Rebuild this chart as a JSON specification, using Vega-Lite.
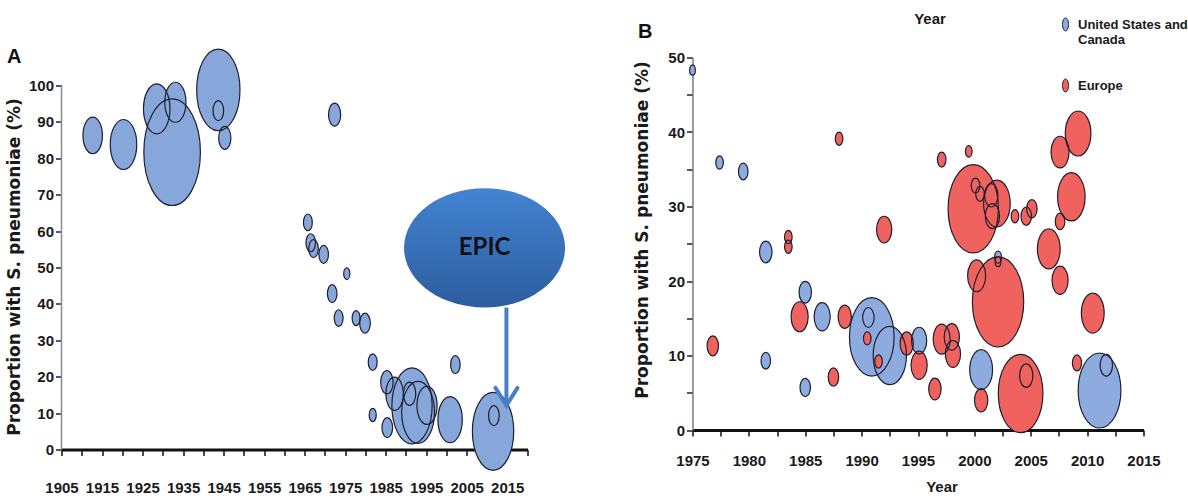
{
  "$schema": "https://vega.github.io/schema/vega-lite/v6.json",
  "background": "white",
  "padding": {"left": 4.5, "top": 11.5, "right": 0, "bottom": 0},
  "spacing": 165,
  "bounds": "flush",
  "config": {
    "view": {"stroke": null},
    "axis": {
      "grid": false,
      "labelFont": "Liberation Sans",
      "labelFontWeight": "bold",
      "labelFontSize": 15,
      "labelColor": "#1a1a1a",
      "labelOverlap": false,
      "labelFlush": false,
      "titleFont": "DejaVu Sans",
      "titleFontWeight": "bold",
      "titleFontSize": 17,
      "titleColor": "#1a1a1a",
      "tickColor": "#222222",
      "tickWidth": 1.5,
      "tickSize": 6
    }
  },
  "datasets": {
    "studiesA": [
      {"year": 1912.7, "pct": 86.3, "n": 337},
      {"year": 1920.3, "pct": 83.8, "n": 625},
      {"year": 1932.3, "pct": 81.7, "n": 2846},
      {"year": 1928.5, "pct": 93.6, "n": 625},
      {"year": 1933.1, "pct": 95.4, "n": 400},
      {"year": 1943.7, "pct": 98.8, "n": 1669},
      {"year": 1943.7, "pct": 93.1, "n": 100},
      {"year": 1945.3, "pct": 85.6, "n": 132},
      {"year": 1972.4, "pct": 92.0, "n": 132},
      {"year": 1965.8, "pct": 62.4, "n": 70},
      {"year": 1966.5, "pct": 56.8, "n": 81},
      {"year": 1967.2, "pct": 55.2, "n": 81},
      {"year": 1969.7, "pct": 53.6, "n": 81},
      {"year": 1975.4, "pct": 48.3, "n": 34},
      {"year": 1971.8, "pct": 42.8, "n": 81},
      {"year": 1973.4, "pct": 36.1, "n": 70},
      {"year": 1977.7, "pct": 36.1, "n": 56},
      {"year": 1979.9, "pct": 34.7, "n": 100},
      {"year": 1981.8, "pct": 24.0, "n": 70},
      {"year": 2002.2, "pct": 23.3, "n": 81},
      {"year": 1991.5, "pct": 12.0, "n": 1444},
      {"year": 1993.0, "pct": 10.2, "n": 961},
      {"year": 1985.3, "pct": 18.5, "n": 136},
      {"year": 1987.2, "pct": 15.3, "n": 277},
      {"year": 1990.9, "pct": 15.3, "n": 136},
      {"year": 1995.2, "pct": 12.1, "n": 361},
      {"year": 1981.8, "pct": 9.5, "n": 44},
      {"year": 1985.4, "pct": 6.0, "n": 100},
      {"year": 2000.9, "pct": 8.2, "n": 529},
      {"year": 2011.5, "pct": 5.0, "n": 1521},
      {"year": 2011.7, "pct": 9.3, "n": 100}
    ],
    "studiesB": [
      {"year": 1975.0, "pct": 48.3, "n": 25, "region": "United States and Canada"},
      {"year": 1977.4, "pct": 35.9, "n": 44, "region": "United States and Canada"},
      {"year": 1979.5, "pct": 34.7, "n": 70, "region": "United States and Canada"},
      {"year": 1981.5, "pct": 23.9, "n": 118, "region": "United States and Canada"},
      {"year": 1985.0, "pct": 18.5, "n": 118, "region": "United States and Canada"},
      {"year": 1986.5, "pct": 15.2, "n": 200, "region": "United States and Canada"},
      {"year": 1990.9, "pct": 12.5, "n": 1533, "region": "United States and Canada"},
      {"year": 1990.6, "pct": 15.1, "n": 100, "region": "United States and Canada"},
      {"year": 1992.5, "pct": 10.0, "n": 850, "region": "United States and Canada"},
      {"year": 1995.1, "pct": 12.0, "n": 178, "region": "United States and Canada"},
      {"year": 1981.5, "pct": 9.3, "n": 70, "region": "United States and Canada"},
      {"year": 1985.0, "pct": 5.7, "n": 84, "region": "United States and Canada"},
      {"year": 2002.1, "pct": 23.2, "n": 36, "region": "United States and Canada"},
      {"year": 2000.6, "pct": 8.1, "n": 400, "region": "United States and Canada"},
      {"year": 2011.1, "pct": 5.3, "n": 1406, "region": "United States and Canada"},
      {"year": 2011.7, "pct": 8.7, "n": 118, "region": "United States and Canada"},
      {"year": 1988.0, "pct": 39.1, "n": 44, "region": "Europe"},
      {"year": 1992.0, "pct": 26.9, "n": 178, "region": "Europe"},
      {"year": 1983.5, "pct": 25.9, "n": 44, "region": "Europe"},
      {"year": 1983.5, "pct": 24.6, "n": 44, "region": "Europe"},
      {"year": 1984.5, "pct": 15.2, "n": 225, "region": "Europe"},
      {"year": 1988.5, "pct": 15.2, "n": 136, "region": "Europe"},
      {"year": 1990.5, "pct": 12.3, "n": 44, "region": "Europe"},
      {"year": 1991.5, "pct": 9.2, "n": 44, "region": "Europe"},
      {"year": 1994.0, "pct": 11.6, "n": 136, "region": "Europe"},
      {"year": 1995.1, "pct": 8.7, "n": 200, "region": "Europe"},
      {"year": 1976.8, "pct": 11.3, "n": 100, "region": "Europe"},
      {"year": 1987.5, "pct": 7.1, "n": 84, "region": "Europe"},
      {"year": 1997.1, "pct": 36.3, "n": 56, "region": "Europe"},
      {"year": 1999.5, "pct": 37.4, "n": 34, "region": "Europe"},
      {"year": 1999.9, "pct": 29.7, "n": 1949, "region": "Europe"},
      {"year": 2002.0, "pct": 30.4, "n": 545, "region": "Europe"},
      {"year": 2000.1, "pct": 32.8, "n": 56, "region": "Europe"},
      {"year": 2000.5, "pct": 31.7, "n": 56, "region": "Europe"},
      {"year": 2001.5, "pct": 31.5, "n": 136, "region": "Europe"},
      {"year": 2001.6, "pct": 28.7, "n": 156, "region": "Europe"},
      {"year": 2003.6, "pct": 28.7, "n": 44, "region": "Europe"},
      {"year": 2004.6, "pct": 28.7, "n": 84, "region": "Europe"},
      {"year": 2005.1, "pct": 29.7, "n": 84, "region": "Europe"},
      {"year": 2009.2, "pct": 39.8, "n": 506, "region": "Europe"},
      {"year": 2007.6, "pct": 37.3, "n": 251, "region": "Europe"},
      {"year": 2008.6, "pct": 31.3, "n": 583, "region": "Europe"},
      {"year": 2007.6, "pct": 28.0, "n": 70, "region": "Europe"},
      {"year": 2006.6, "pct": 24.3, "n": 400, "region": "Europe"},
      {"year": 2007.6, "pct": 20.1, "n": 200, "region": "Europe"},
      {"year": 2000.2, "pct": 20.7, "n": 251, "region": "Europe"},
      {"year": 2002.1, "pct": 17.2, "n": 2025, "region": "Europe"},
      {"year": 2002.1, "pct": 22.6, "n": 25, "region": "Europe"},
      {"year": 2010.5, "pct": 15.7, "n": 400, "region": "Europe"},
      {"year": 2000.6, "pct": 4.0, "n": 136, "region": "Europe"},
      {"year": 2004.1, "pct": 4.9, "n": 1533, "region": "Europe"},
      {"year": 2004.6, "pct": 7.3, "n": 136, "region": "Europe"},
      {"year": 2009.1, "pct": 9.0, "n": 64, "region": "Europe"},
      {"year": 1997.1, "pct": 12.2, "n": 225, "region": "Europe"},
      {"year": 1998.0, "pct": 12.5, "n": 178, "region": "Europe"},
      {"year": 1998.1, "pct": 10.2, "n": 178, "region": "Europe"},
      {"year": 1996.5, "pct": 5.5, "n": 118, "region": "Europe"}
    ]
  },
  "hconcat": [
    {
      "width": 466,
      "height": 392,
      "encoding": {
        "x": {"field": "year", "type": "quantitative", "scale": {"domain": [1905, 2020], "nice": false, "zero": false},
          "axis": {"title": "A", "values": [1905,1910,1915,1920,1925,1930,1935,1940,1945,1950,1955,1960,1965,1970,1975,1980,1985,1990,1995,2000,2005,2010,2015,2020], "format": "d",
            "labelExpr": "(datum.value - 1905) % 10 == 0 && datum.value <= 2015 ? datum.label : ''",
            "domainColor": "#111111", "domainWidth": 3, "labelPadding": 25, "tickColor": "#111111",
            "titleFont": "Liberation Sans", "titleFontSize": 20, "titleColor": "#111111", "titleAngle": 0, "titleAlign": "left", "titleBaseline": "alphabetic", "titleX": -55, "titleY": -387}},
        "y": {"field": "pct", "type": "quantitative", "scale": {"domain": [0, 107.7], "nice": false},
          "axis": {"title": "Proportion with S. pneumoniae (%)", "values": [0,10,20,30,40,50,60,70,80,90,100], "domain": false, "labelPadding": 2, "titlePadding": 5, "titleY": 209}}
      },
      "layer": [
        {
          "data": {"values": [{"year": 1905, "pct": 0, "pct2": 100}]},
          "mark": {"type": "rule", "color": "#8a8a8a", "strokeWidth": 1.5},
          "encoding": {"y2": {"field": "pct2"}}
        },
        {
          "data": {"name": "studiesA"},
          "mark": {"type": "point", "filled": true, "opacity": 1, "strokeWidth": 0, "color": "#87a6da", "shape": "M-0.53,0A0.53,1 0 0,1 0.53,0A0.53,1 0 0,1 -0.53,0Z"},
          "encoding": {
            "size": {"field": "n", "type": "quantitative", "scale": {"type": "linear", "zero": true, "domain": [0, 1000], "range": [0, 4000]}, "legend": null}
          }
        },
        {
          "data": {"name": "studiesA"},
          "mark": {"type": "point", "filled": false, "opacity": 1, "strokeWidth": 1.2, "color": "#1e2030", "shape": "M-0.53,0A0.53,1 0 0,1 0.53,0A0.53,1 0 0,1 -0.53,0Z"},
          "encoding": {
            "size": {"field": "n", "type": "quantitative", "scale": {"type": "linear", "zero": true, "domain": [0, 1000], "range": [0, 4000]}, "legend": null}
          }
        },
        {
          "data": {"values": [{"year": 2009.4, "pct": 55.4, "label": "EPIC"}]},
          "mark": {"type": "point", "filled": true, "opacity": 1, "strokeWidth": 0, "size": 25921, "shape": "M-1,0A1,0.74 0 0,1 1,0A1,0.74 0 0,1 -1,0Z",
            "color": {"x1": 0, "y1": 0, "x2": 0, "y2": 1, "gradient": "linear", "stops": [{"offset": 0, "color": "#4384d2"}, {"offset": 1, "color": "#2d5d9e"}]}}
        },
        {
          "data": {"values": [{"year": 2009.4, "pct": 55.4, "label": "EPIC"}]},
          "mark": {"type": "text", "font": "Lato", "fontWeight": "bold", "fontSize": 24, "color": "#111111", "baseline": "middle", "align": "center"},
          "encoding": {"text": {"field": "label"}}
        },
        {
          "data": {"values": [{"year": 2014.8, "pct": 39, "pct2": 12.6}]},
          "mark": {"type": "rule", "color": "#4a7fc3", "strokeWidth": 4},
          "encoding": {"y2": {"field": "pct2"}}
        },
        {
          "data": {"values": [{"year": 2014.8, "pct": 12.1}]},
          "mark": {"type": "point", "filled": false, "opacity": 1, "strokeWidth": 4, "color": "#4a7fc3", "size": 484, "strokeCap": "round", "shape": "M-1,-1.6L0,0L1,-1.6"}
        }
      ]
    },
    {
      "width": 451,
      "height": 372.5,
      "data": {"name": "studiesB"},
      "resolve": {"axis": {"x": "independent", "y": "independent"}},
      "layer": [
        {
          "mark": {"type": "point", "filled": true, "opacity": 1, "strokeWidth": 0, "shape": "M-0.57,0A0.57,1 0 0,1 0.57,0A0.57,1 0 0,1 -0.57,0Z"},
          "encoding": {
            "x": {"field": "year", "type": "quantitative", "scale": {"domain": [1975, 2015], "nice": false, "zero": false},
              "axis": {"title": "Year", "values": [1975,1977.5,1980,1982.5,1985,1987.5,1990,1992.5,1995,1997.5,2000,2002.5,2005,2007.5,2010,2012.5,2015], "format": "d",
                "labelExpr": "datum.value % 5 == 0 ? datum.label : ''", "domainColor": "#111111", "domainWidth": 3, "labelPadding": 17, "tickColor": "#111111",
                "titleFont": "Liberation Sans", "titleFontSize": 15, "titleBaseline": "alphabetic", "titleX": 249, "titleY": 61}},
            "y": {"field": "pct", "type": "quantitative", "scale": {"domain": [0, 50], "nice": false},
              "axis": {"title": "Proportion with S. pneumoniae (%)", "values": [0,5,10,15,20,25,30,35,40,45,50], "labelExpr": "datum.value % 10 == 0 ? datum.label : ''",
                "domainColor": "#7a7a7a", "domainWidth": 1.5, "labelPadding": 2, "titlePadding": 16, "titleY": 172}},
            "size": {"field": "n", "type": "quantitative", "scale": {"type": "linear", "zero": true, "domain": [0, 1000], "range": [0, 4000]}, "legend": null},
            "color": {"field": "region", "type": "nominal", "scale": {"domain": ["United States and Canada", "Europe"], "range": ["#8eabdf", "#f0625e"]},
              "legend": {"title": null, "orient": "none", "legendX": 996.5, "legendY": -36, "direction": "vertical",
                "labelFont": "Liberation Sans", "labelFontWeight": "bold", "labelFontSize": 13, "labelColor": "#1a1a1a",
                "labelExpr": "datum.label == 'United States and Canada' ? ['United States and', '\u00a0', 'Canada'] : datum.label",
                "labelBaseline": "alphabetic", "labelOffset": 5,
                "symbolType": "M-0.46,-0.7A0.46,1 0 0,1 0.46,-0.7A0.46,1 0 0,1 -0.46,-0.7Z", "symbolSize": 170, "symbolStrokeColor": "#222222", "symbolStrokeWidth": 1, "symbolOpacity": 1, "rowPadding": 14}}
          }
        },
        {
          "mark": {"type": "point", "filled": false, "opacity": 1, "strokeWidth": 1.2, "color": "#1e2030", "shape": "M-0.57,0A0.57,1 0 0,1 0.57,0A0.57,1 0 0,1 -0.57,0Z"},
          "encoding": {
            "x": {"field": "year", "type": "quantitative", "scale": {"domain": [1975, 2015], "nice": false, "zero": false},
              "axis": {"orient": "top", "title": "Year", "labels": false, "ticks": false, "domain": false,
                "titleFont": "Liberation Sans", "titleFontSize": 15, "titleBaseline": "alphabetic", "titleX": 237, "titleY": -34}},
            "y": {"field": "pct", "type": "quantitative", "scale": {"domain": [0, 50], "nice": false},
              "axis": {"orient": "right", "title": "B", "labels": false, "ticks": false, "domain": false,
                "titleFont": "Liberation Sans", "titleFontSize": 20, "titleColor": "#111111", "titleAngle": 0, "titleAlign": "left", "titleBaseline": "alphabetic", "titleX": -506, "titleY": -20}},
            "size": {"field": "n", "type": "quantitative", "scale": {"type": "linear", "zero": true, "domain": [0, 1000], "range": [0, 4000]}, "legend": null}
          }
        }
      ]
    }
  ]
}
